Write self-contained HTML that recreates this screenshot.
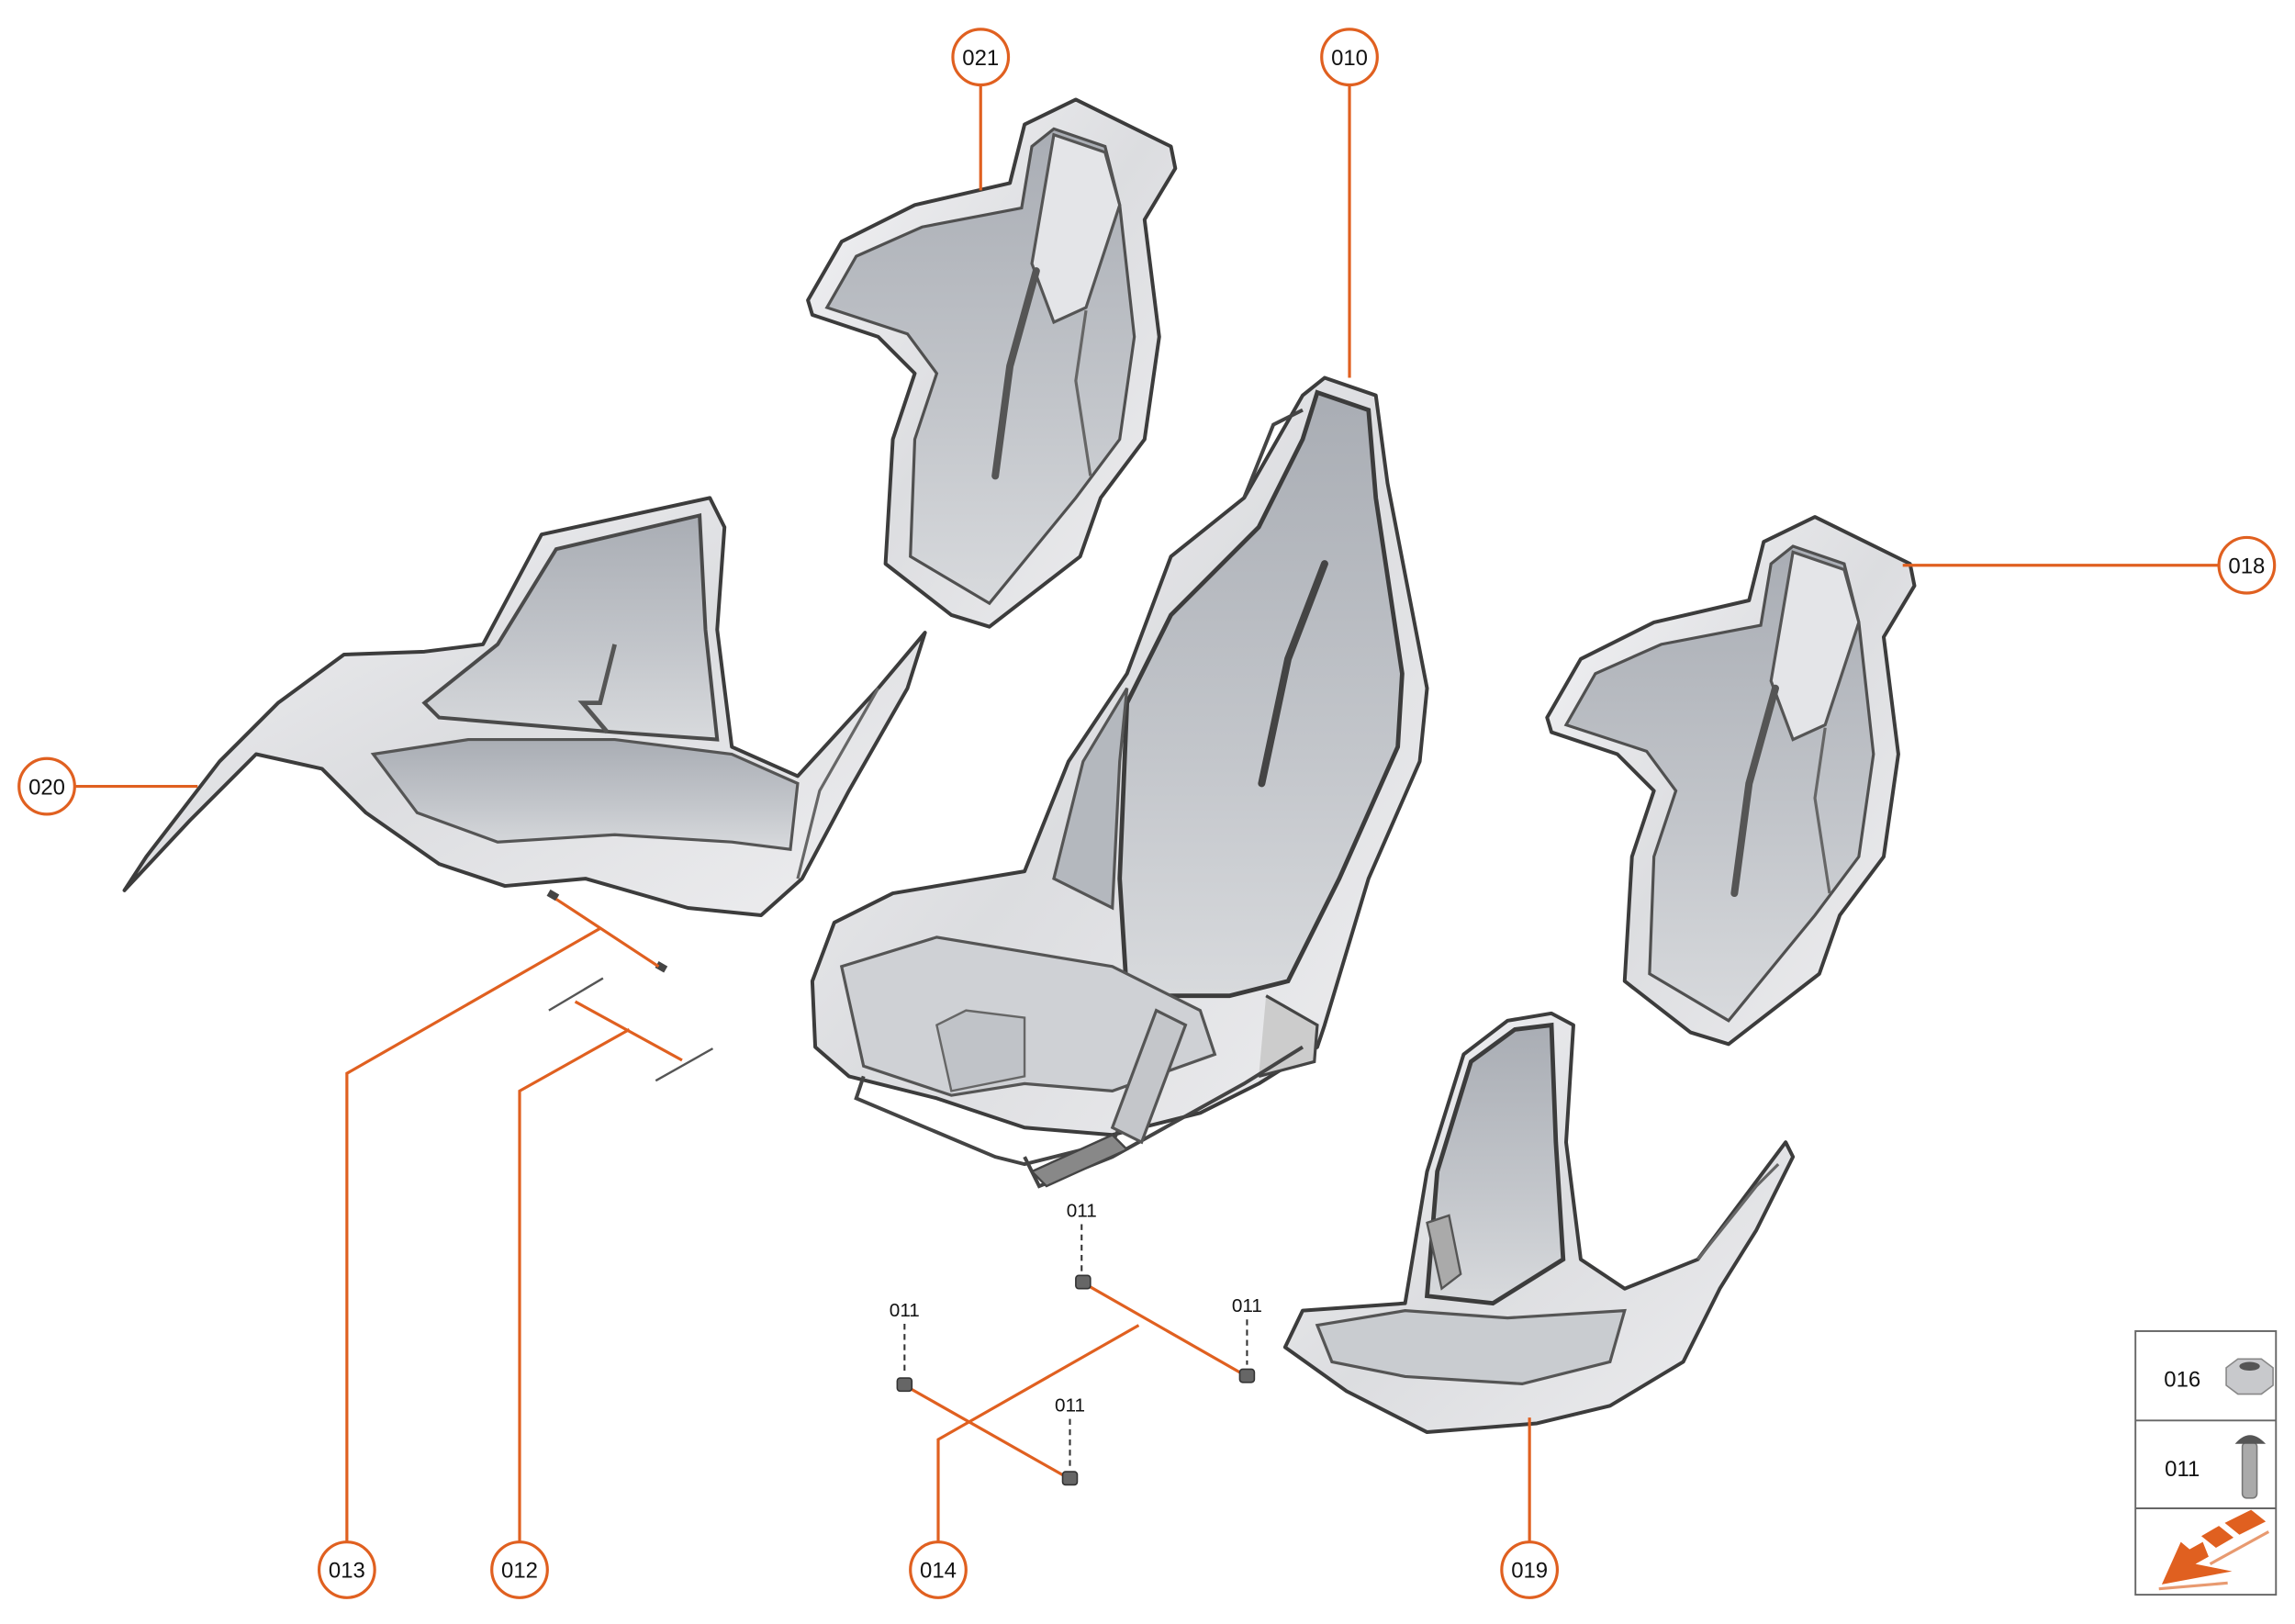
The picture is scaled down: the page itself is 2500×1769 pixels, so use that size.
<!DOCTYPE html>
<html><head><meta charset="utf-8"><style>
html,body{margin:0;padding:0;background:#fff;}
svg{display:block;}
text{font-family:"Liberation Sans",sans-serif;}
</style></head><body>
<svg width="2500" height="1769" viewBox="0 0 1568 1109" preserveAspectRatio="none" xmlns="http://www.w3.org/2000/svg">
<defs>
<linearGradient id="sh" x1="0" y1="0" x2="1" y2="1">
<stop offset="0" stop-color="#f4f4f6"/><stop offset="0.5" stop-color="#dcdde0"/><stop offset="1" stop-color="#eeeef0"/>
</linearGradient>
<linearGradient id="in" x1="0" y1="0" x2="0" y2="1">
<stop offset="0" stop-color="#a9adb4"/><stop offset="0.6" stop-color="#c3c6cb"/><stop offset="1" stop-color="#d8dadd"/>
</linearGradient>
<g id="back">
<path d="M735,68 L800,100 L803,115 L782,150 L792,230 L782,300 L752,340 L738,380 L676,428 L650,420 L605,385 L610,300 L625,255 L600,230 L555,215 L552,205 L575,165 L625,140 L690,125 L700,85 Z" fill="url(#sh)" stroke="#3c3c3c" stroke-width="2.5" stroke-linejoin="round"/>
<path d="M720,88 L755,100 L765,140 L775,230 L765,300 L735,340 L676,412 L622,380 L625,300 L640,255 L620,228 L565,210 L585,175 L630,155 L698,142 L705,100 Z" fill="url(#in)" stroke="#505050" stroke-width="2"/>
<path d="M720,92 L755,104 L765,140 L742,210 L720,220 L705,180 Z" fill="#e4e5e8" stroke="#555" stroke-width="2"/>
<path d="M708,185 L690,250 L680,325" fill="none" stroke="#555" stroke-width="5" stroke-linecap="round"/>
<path d="M742,212 L735,260 L745,325" fill="none" stroke="#666" stroke-width="2"/>
</g>
</defs>

<!-- seat 021 -->
<use href="#back"/>
<!-- seat 018 -->
<use href="#back" transform="translate(505,285)"/>

<!-- seat 020 -->
<path d="M485,340 L495,360 L490,430 L500,510 L545,530 L600,470 L632,432 L620,470 L580,540 L548,600 L520,625 L470,620 L400,600 L345,605 L300,590 L250,555 L220,525 L175,515 L130,560 L85,608 L100,585 L150,520 L190,480 L235,447 L290,445 L330,440 L370,365 Z" fill="url(#sh)" stroke="#3c3c3c" stroke-width="2.5" stroke-linejoin="round"/>
<path d="M478,352 L482,430 L490,505 L420,500 L360,495 L300,490 L290,480 L340,440 L380,375 Z" fill="url(#in)" stroke="#4a4a4a" stroke-width="2.5"/>
<path d="M255,515 L320,505 L420,505 L500,515 L545,535 L540,580 L500,575 L420,570 L340,575 L285,555 Z" fill="url(#in)" stroke="#555" stroke-width="2"/>
<path d="M420,440 L410,480 L398,480 L415,500" fill="none" stroke="#555" stroke-width="3"/>
<path d="M600,470 L560,540 L545,600" fill="none" stroke="#666" stroke-width="2"/>

<!-- seat 010 -->
<path d="M905,258 L940,270 L948,330 L975,470 L970,520 L935,600 L905,700 L900,715 L860,740 L820,760 L760,775 L700,770 L640,750 L580,735 L557,715 L555,670 L570,630 L610,610 L700,595 L730,520 L770,460 L800,380 L850,340 L890,270 Z" fill="url(#sh)" stroke="#3c3c3c" stroke-width="2.5" stroke-linejoin="round"/>
<path d="M900,268 L935,280 L940,340 L958,460 L955,510 L915,600 L880,670 L840,680 L770,680 L765,600 L770,480 L800,420 L860,360 L890,300 Z" fill="url(#in)" stroke="#3c3c3c" stroke-width="3"/>
<path d="M770,470 L740,520 L720,600 L760,620 L765,520 Z" fill="#b4b8be" stroke="#555" stroke-width="2"/>
<path d="M905,385 L880,450 L862,535" fill="none" stroke="#444" stroke-width="5" stroke-linecap="round"/>
<path d="M575,660 L640,640 L700,650 L760,660 L820,690 L830,720 L760,745 L700,740 L650,748 L590,728 Z" fill="#cfd1d5" stroke="#555" stroke-width="2"/>
<path d="M640,700 L660,690 L700,695 L700,735 L650,745 Z" fill="#c0c3c8" stroke="#666" stroke-width="1.5"/>
<path d="M850,340 L870,290 L890,280" fill="none" stroke="#444" stroke-width="2.5"/>
<path d="M865,680 L900,700 L898,725 L860,735" fill="#ccc" stroke="#444" stroke-width="2"/>
<!-- rails -->
<path d="M590,735 L585,750 L680,790 L700,795 L760,780 L770,760" fill="none" stroke="#444" stroke-width="2.5"/>
<path d="M700,790 L710,810 L760,790 L850,740 L890,715" fill="none" stroke="#444" stroke-width="2.5"/>
<path d="M760,770 L790,690 L810,700 L780,780 Z" fill="#c4c6ca" stroke="#555" stroke-width="2"/>
<path d="M705,800 L760,775 L770,785 L715,810 Z" fill="#888" stroke="#444" stroke-width="1.5"/>

<!-- seat 019 -->
<path d="M1060,692 L1075,700 L1070,780 L1080,860 L1110,880 L1160,860 L1220,780 L1225,790 L1200,840 L1175,880 L1150,930 L1100,960 L1050,972 L975,978 L920,950 L878,920 L890,895 L960,890 L975,800 L1000,720 L1030,697 Z" fill="url(#sh)" stroke="#3c3c3c" stroke-width="2.5" stroke-linejoin="round"/>
<path d="M1060,700 L1063,780 L1068,860 L1020,890 L975,885 L982,800 L1005,725 L1035,703 Z" fill="url(#in)" stroke="#3c3c3c" stroke-width="3"/>
<path d="M900,905 L960,895 L1030,900 L1110,895 L1100,930 L1040,945 L960,940 L910,930 Z" fill="#c9ccd0" stroke="#555" stroke-width="2"/>
<path d="M975,835 L990,830 L998,870 L985,880 Z" fill="#aaa" stroke="#555" stroke-width="1.5"/>
<path d="M1160,860 L1200,810 L1215,795" fill="none" stroke="#666" stroke-width="2"/>

<!-- small parts -->
<rect x="374" y="609" width="7" height="5" fill="#444" transform="rotate(30 378 612)"/>
<rect x="448" y="658" width="7" height="5" fill="#444" transform="rotate(30 452 661)"/>
<line x1="375" y1="690" x2="412" y2="668" stroke="#555" stroke-width="1.5"/>
<line x1="448" y1="738" x2="487" y2="716" stroke="#555" stroke-width="1.5"/>

<!-- orange leaders -->
<g stroke="#e06020" stroke-width="2" fill="none">
<line x1="670" y1="58" x2="670" y2="130"/>
<line x1="922" y1="58" x2="922" y2="258"/>
<line x1="1516" y1="386" x2="1300" y2="386"/>
<line x1="51" y1="537" x2="135" y2="537"/>
<polyline points="237,1053 237,733 410,634"/>
<line x1="380" y1="614" x2="450" y2="660"/>
<polyline points="355,1053 355,745 430,703"/>
<line x1="393" y1="684" x2="466" y2="724"/>
<polyline points="641,1053 641,983 778,905"/>
<line x1="740" y1="876" x2="852" y2="940"/>
<line x1="618" y1="946" x2="731" y2="1010"/>
<line x1="1045" y1="1053" x2="1045" y2="968"/>
</g>

<!-- bushings -->
<g stroke="#333" stroke-width="1">
<rect x="735" y="871" width="10" height="9" rx="2" fill="#666"/>
<rect x="847" y="935" width="10" height="9" rx="2" fill="#666"/>
<rect x="613" y="941" width="10" height="9" rx="2" fill="#666"/>
<rect x="726" y="1005" width="10" height="9" rx="2" fill="#666"/>
</g>
<g stroke="#333" stroke-width="1.3" stroke-dasharray="4,3">
<line x1="739" y1="836" x2="739" y2="868"/>
<line x1="852" y1="901" x2="852" y2="932"/>
<line x1="618" y1="904" x2="618" y2="938"/>
<line x1="731" y1="969" x2="731" y2="1002"/>
</g>
<g font-size="13" fill="#111" text-anchor="middle">
<text x="739" y="831">011</text>
<text x="852" y="896">011</text>
<text x="618" y="899">011</text>
<text x="731" y="964">011</text>
</g>

<!-- circles -->
<g fill="#fff" stroke="#e06020" stroke-width="2">
<circle cx="670" cy="39" r="19"/><circle cx="922" cy="39" r="19"/>
<circle cx="1535" cy="386" r="19"/><circle cx="32" cy="537" r="19"/>
<circle cx="237" cy="1072" r="19"/><circle cx="355" cy="1072" r="19"/>
<circle cx="641" cy="1072" r="19"/><circle cx="1045" cy="1072" r="19"/>
</g>
<g font-size="15" fill="#111" text-anchor="middle">
<text x="670" y="44.5">021</text><text x="922" y="44.5">010</text>
<text x="1535" y="391.5">018</text><text x="32" y="542.5">020</text>
<text x="237" y="1077.5">013</text><text x="355" y="1077.5">012</text>
<text x="641" y="1077.5">014</text><text x="1045" y="1077.5">019</text>
</g>

<!-- legend -->
<rect x="1459" y="909" width="96" height="180" fill="#fff" stroke="#666" stroke-width="1.2"/>
<line x1="1459" y1="970" x2="1555" y2="970" stroke="#666" stroke-width="1.2"/>
<line x1="1459" y1="1030" x2="1555" y2="1030" stroke="#666" stroke-width="1.2"/>
<text x="1491" y="947" font-size="15" fill="#111" text-anchor="middle">016</text>
<text x="1491" y="1008" font-size="15" fill="#111" text-anchor="middle">011</text>
<path d="M1521,934 L1529,928 L1545,928 L1553,934 L1553,946 L1545,952 L1529,952 L1521,946 Z" fill="#c8c9cc" stroke="#888"/>
<ellipse cx="1537" cy="933" rx="7" ry="3" fill="#555"/>
<rect x="1532" y="985" width="10" height="38" rx="3" fill="#aaa" stroke="#777"/>
<path d="M1527,986 Q1537,974 1548,986 Z" fill="#555"/>
<path d="M1477,1082 L1490,1053 L1496,1058 L1505,1053 L1509,1063 L1500,1068 L1525,1073 Z" fill="#e06020"/>
<path d="M1504,1049 L1516,1042 L1526,1050 L1514,1057 Z" fill="#e06020"/>
<path d="M1520,1040 L1538,1031 L1548,1039 L1530,1048 Z" fill="#e06020"/>
<line x1="1475" y1="1085" x2="1522" y2="1081" stroke="#e89a70" stroke-width="2"/>
<line x1="1510" y1="1068" x2="1550" y2="1046" stroke="#e89a70" stroke-width="2"/>
</svg>
</body></html>
